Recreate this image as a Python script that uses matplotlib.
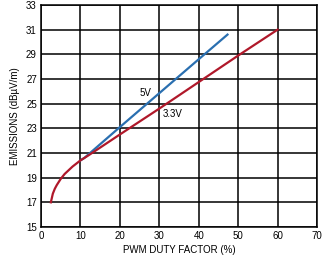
import matplotlib
matplotlib.use("Agg")
import matplotlib.pyplot as plt

plt.rcParams['font.family'] = ['Liberation Sans', 'DejaVu Sans']

# 3.3V curve
duty_33 = [2.5, 3, 3.5, 4, 5, 6, 7, 8, 9, 10, 12, 20, 30, 40, 50, 60]
emis_33 = [17.0, 17.7, 18.1, 18.4, 18.9, 19.3, 19.6, 19.9, 20.15, 20.4, 20.8, 22.5, 24.6, 26.75, 28.9, 31.0]
# 5V curve
duty_5 = [10, 11, 20, 30, 40, 47.3]
emis_5 = [20.4, 20.6, 23.1, 25.85, 28.6, 30.6]

labels = [("5V", 26.4, 25.9), ("3.3V", 33.5, 24.2)]

fig = plt.figure(figsize=(3.26, 2.56), dpi=100)
ax = fig.add_axes([41/326, 1 - 227/256, 276/326, 222/256])

ax.plot(duty_5, emis_5, color='#2a6fb0', lw=1.6)
ax.plot(duty_33, emis_33, color='#b0182a', lw=1.6)
for txt, x, y in labels:
    ax.text(x, y, txt, fontsize=7, ha='center', va='center')

ax.set_xlim(0, 70)
ax.set_ylim(15, 33)
ax.set_xticks(range(0, 71, 10))
ax.set_yticks(range(15, 34, 2))
ax.grid(True, color='black', lw=1.1)
ax.tick_params(length=0, labelsize=7, pad=3)
for s in ax.spines.values():
    s.set_linewidth(1.1)
ax.set_xlabel("PWM DUTY FACTOR (%)", fontsize=7, labelpad=3)
ax.set_ylabel("EMISSIONS (dBµV/m)", fontsize=7, labelpad=4)

fig.savefig("out.png", dpi=100)
